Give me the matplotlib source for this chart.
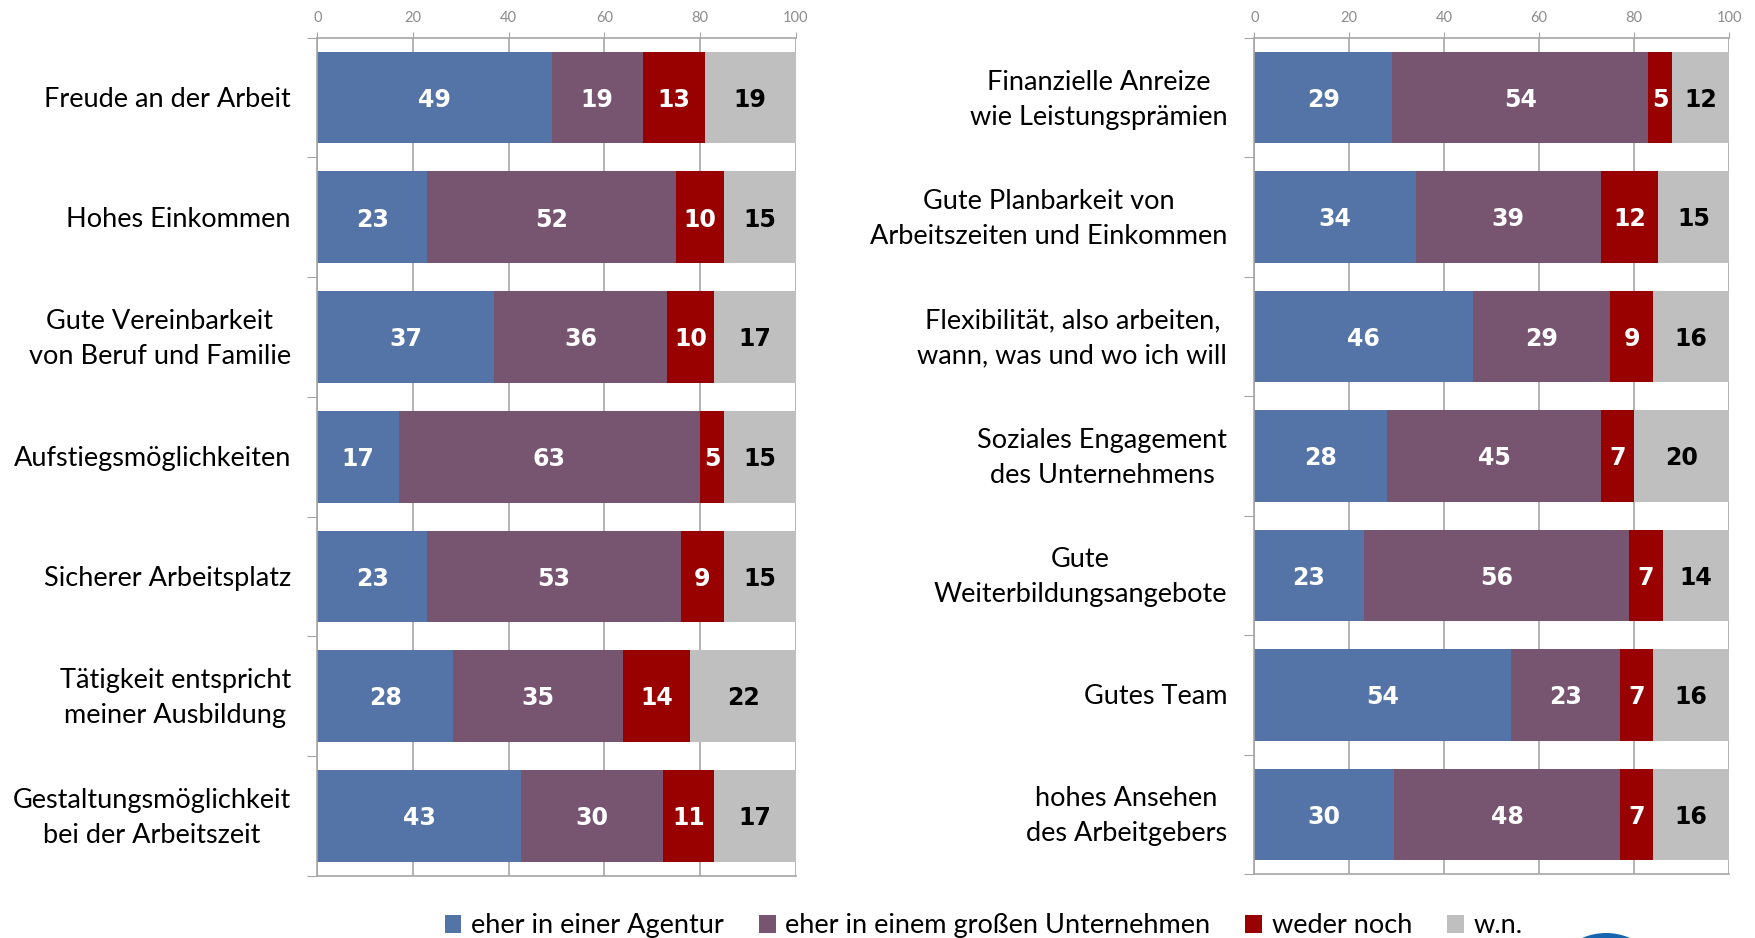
import numpy as np
import matplotlib
matplotlib.use('Agg')
import matplotlib.pyplot as plt
from matplotlib.patches import Patch, Circle

plt.rcParams['font.family'] = ['Lato', 'DejaVu Sans']

# series / colours
series = ['eher in einer Agentur', 'eher in einem großen Unternehmen',
          'weder noch', 'w.n.']
colors = ['#5474a8', '#775570', '#990000', '#bfbfbf']
text_colors = ['white', 'white', 'white', 'black']

# left panel
left_labels = ['Freude an der Arbeit',
               'Hohes Einkommen',
               'Gute Vereinbarkeit\nvon Beruf und Familie',
               'Aufstiegsmöglichkeiten',
               'Sicherer Arbeitsplatz',
               'Tätigkeit entspricht\nmeiner Ausbildung',
               'Gestaltungsmöglichkeit\nbei der Arbeitszeit']
left_agentur = [49, 23, 37, 17, 23, 28.4, 42.6]
left_gross = [19, 52, 36, 63, 53, 35.4, 29.6]
left_weder = [13, 10, 10, 5, 9, 14.2, 10.8]
left_wn = [19, 15, 17, 15, 15, 22, 17]

# right panel
right_labels = ['Finanzielle Anreize\nwie Leistungsprämien',
                'Gute Planbarkeit von\nArbeitszeiten und Einkommen',
                'Flexibilität, also arbeiten,\nwann, was und wo ich will',
                'Soziales Engagement\ndes Unternehmens',
                'Gute\nWeiterbildungsangebote',
                'Gutes Team',
                'hohes Ansehen\ndes Arbeitgebers']
right_agentur = [29, 34, 46, 28, 23, 54, 29.5]
right_gross = [54, 39, 29, 45, 56, 23, 47.5]
right_weder = [5, 12, 9, 7, 7, 7, 7]
right_wn = [12, 15, 16, 20, 14, 16, 16]

grid_col = '#a6a6a6'

fig = plt.figure(figsize=(17.55, 9.38), dpi=100)


def draw_panel(rect, labels, values, label_off):
    ax = fig.add_axes(rect)
    y = np.arange(len(labels))
    left = np.zeros(len(labels))
    for vals, col, tcol in zip(values, colors, text_colors):
        vals = np.array(vals, dtype=float)
        bars = ax.barh(y, vals, left=left, height=0.766, color=col,
                       linewidth=0, zorder=2)
        anns = ax.bar_label(bars, labels=['%.0f' % v for v in vals],
                            label_type='center', color=tcol, fontsize=17,
                            fontweight='bold', family='DejaVu Sans')
        for a in anns:
            a.xyann = (0, -1.6)
        left += vals

    ax.set_xlim(0, 100)
    ax.set_ylim(len(labels) - 0.5, -0.5)
    ax.xaxis.tick_top()
    ax.set_xticks(range(0, 101, 20))
    ax.tick_params(axis='x', colors=grid_col, labelcolor='#8c8c8c',
                   labelsize=10.5, length=4, pad=5)
    ax.set_yticks(np.arange(len(labels) + 1) - 0.5)
    ax.set_yticklabels([])
    ax.tick_params(axis='y', length=7, color=grid_col)
    ax.grid(axis='x', color=grid_col, linewidth=1.2)
    ax.set_axisbelow(True)
    for s in ['top', 'left', 'bottom']:
        ax.spines[s].set_color(grid_col)
        ax.spines[s].set_linewidth(1.2)
    ax.spines['right'].set_visible(False)

    for yi, lab in zip(y, labels):
        ax.annotate(lab, xy=(0, yi), xycoords=('axes fraction', 'data'),
                    xytext=(-label_off, -1.5), textcoords='offset points',
                    ha='right', va='center', multialignment='center',
                    fontsize=19.5, linespacing=1.5)
    return ax


draw_panel([0.1808, 0.0664, 0.2726, 0.8934], left_labels,
           [left_agentur, left_gross, left_weder, left_wn], 19)
draw_panel([0.7147, 0.0681, 0.2706, 0.8917], right_labels,
           [right_agentur, right_gross, right_weder, right_wn], 19.5)

handles = [Patch(facecolor=c, edgecolor='none') for c in colors]
fig.legend(handles, series, loc='center', bbox_to_anchor=(0.5605, 0.013),
           ncol=4, frameon=False, fontsize=19.5, handlelength=0.62,
           handleheight=0.62, handletextpad=0.35, columnspacing=1.3,
           borderpad=0, borderaxespad=0)

# logo corner (partly cut off)
fig.add_artist(Circle((16.06, -0.55), 0.6, transform=fig.dpi_scale_trans,
                      facecolor='#1565b0', edgecolor='none'))

fig.savefig('out.png', dpi=100)
